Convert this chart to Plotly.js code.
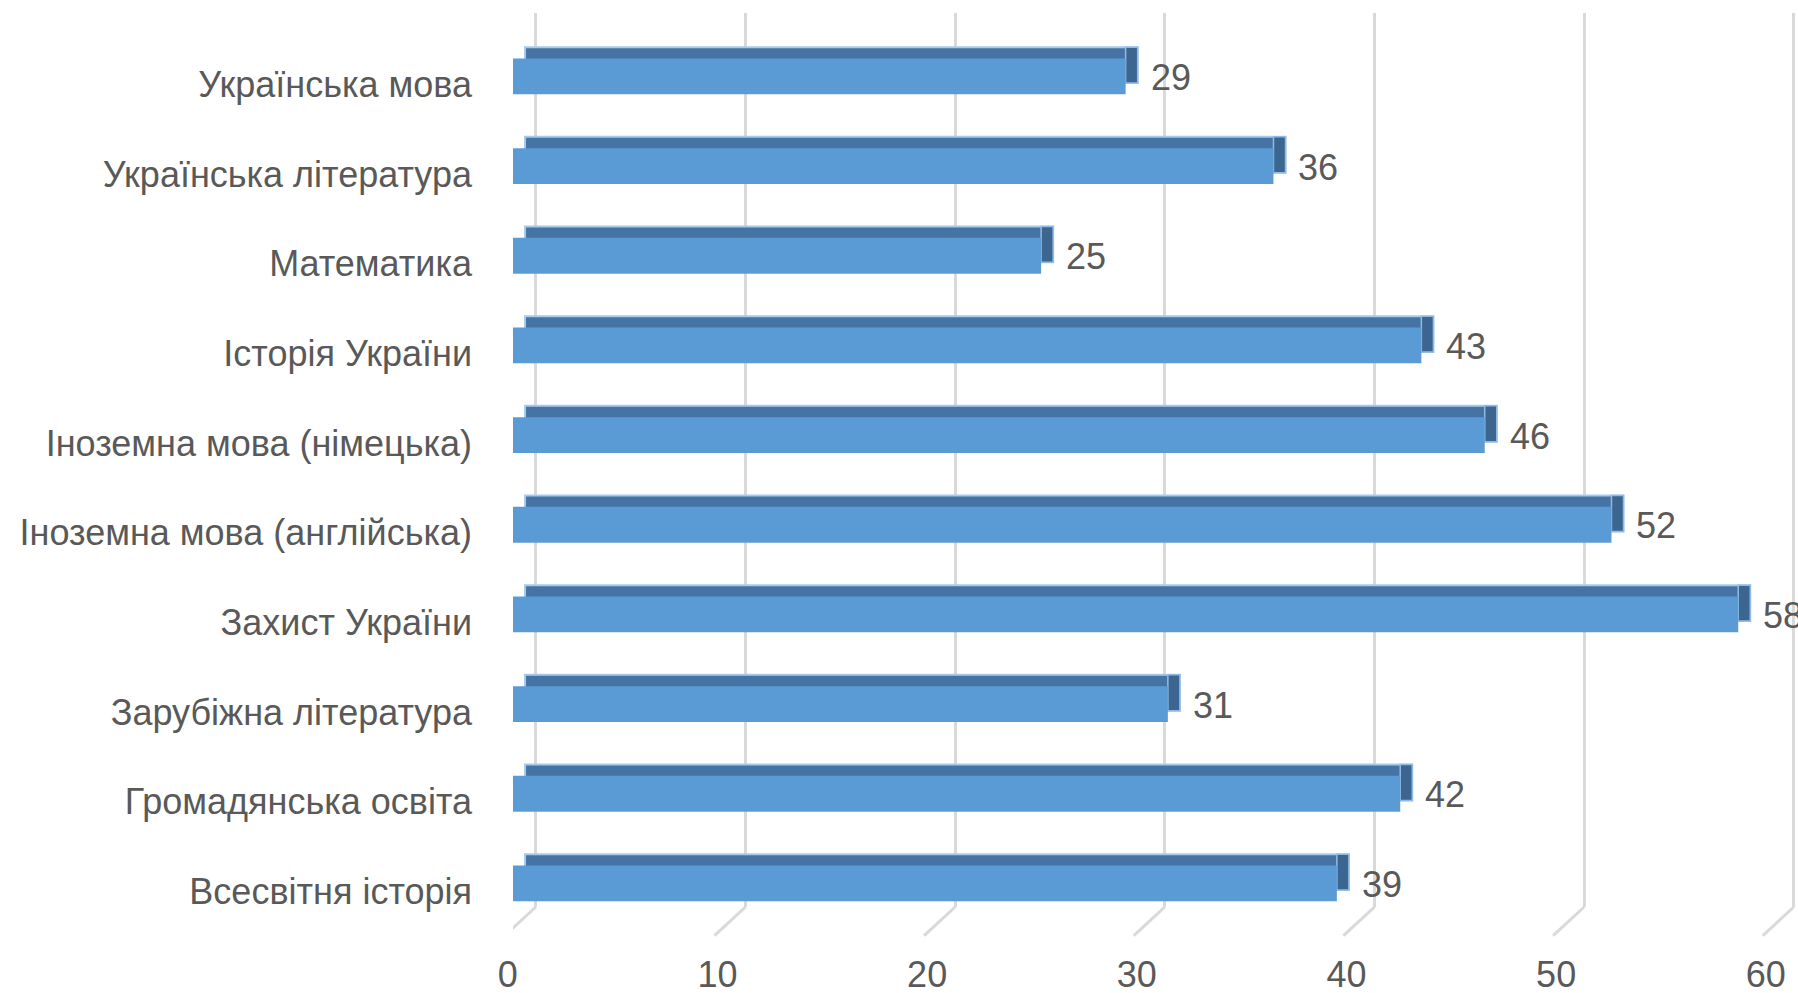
<!DOCTYPE html>
<html>
<head>
<meta charset="utf-8">
<script src="https://cdn.plot.ly/plotly-3.0.1.min.js"></script>
<style>html,body{margin:0;padding:0;background:#fff;overflow:hidden}#chart{width:1798px;height:993px}</style>
</head>
<body>
<div id="chart"></div>
<script>
// ---- data ----
const categories = [
  "Українська мова",
  "Українська література",
  "Математика",
  "Історія України",
  "Іноземна мова (німецька)",
  "Іноземна мова (англійська)",
  "Захист України",
  "Зарубіжна література",
  "Громадянська освіта",
  "Всесвітня історія"
];
const values = [29, 36, 25, 43, 46, 52, 58, 31, 42, 39];
const tickValues = [0, 10, 20, 30, 40, 50, 60];
const tickLabels = ["0", "10", "20", "30", "40", "50", "60"];

// ---- style constants ----
const FONT = "Liberation Sans, Arial, sans-serif";
const TXT = "#595959";
const FRONT = "#5B9BD5";
const TOP = "#4574A4";
const SIDE = "#3C6690";
const barW = 0.40;          // category units
const depthUp = 0.126;      // category units (3D depth, vertical)
const depthRight = 0.57;    // value units (3D depth, horizontal)
const floorDepth = 1.48;    // x2 units for the slanted floor lines
const floorDrop = 0.032;    // paper units

const frontTrace = {
  type: "bar", orientation: "h", x: values, y: categories,
  width: barW, offset: -barW / 2 + 0.01,
  marker: {color: FRONT, line: {width: 0}},
  hoverinfo: "skip", showlegend: false, xaxis: "x", yaxis: "y"
};
const backTrace = {
  type: "bar", orientation: "h", x: values, y: categories,
  base: values.map(() => depthRight),
  width: barW, offset: -barW / 2 + 0.01 - depthUp,
  marker: {color: TOP, line: {color: "#A6CAEC", width: 2}},
  hoverinfo: "skip", showlegend: false, xaxis: "x", yaxis: "y"
};
const sideTrace = {
  type: "bar", orientation: "h", x: values.map(() => depthRight), y: categories,
  base: values,
  width: barW, offset: -barW / 2 + 0.01 - depthUp,
  marker: {color: SIDE, line: {color: "#8FBCE6", width: 1.5}},
  hoverinfo: "skip", showlegend: false, xaxis: "x", yaxis: "y"
};
const gridHolder = {
  type: "scatter", mode: "markers", x: tickValues, y: tickValues.map(() => categories[0]),
  marker: {opacity: 0}, hoverinfo: "skip", showlegend: false, xaxis: "x2", yaxis: "y"
};

const shapes = tickValues.map(v => ({
  type: "line", xref: "x2", yref: "paper",
  x0: v, y0: 0, x1: v - floorDepth, y1: -floorDrop,
  line: {color: "#D9D9D9", width: 3}
}));

const annotations = values.map((v, i) => ({
  x: v, y: categories[i], xref: "x", yref: "y",
  text: String(v), showarrow: false, xanchor: "left", yanchor: "middle",
  xshift: 23, yshift: -2,
  font: {family: FONT, size: 36, color: TXT}
}));

const layout = {
  width: 1798, height: 993,
  margin: {l: 513, r: 0, t: 13, b: 86},
  paper_bgcolor: "#fff", plot_bgcolor: "rgba(0,0,0,0)",
  barmode: "overlay",
  font: {family: FONT, size: 36, color: TXT},
  xaxis: {
    domain: [0, 1], range: [0, 60.83], showgrid: false, zeroline: false,
    showticklabels: false, showline: false, fixedrange: true
  },
  xaxis2: {
    overlaying: "x", anchor: "y", side: "bottom",
    range: [-1.087, 60.2], showgrid: true, gridcolor: "#D9D9D9", gridwidth: 3,
    zeroline: false, showline: false,
    tickmode: "array", tickvals: tickValues, ticktext: tickLabels,
    ticks: "", ticklabelshift: -28, ticklabelstandoff: 43,
    tickfont: {family: FONT, size: 36, color: TXT}
  },
  yaxis: {
    type: "category", categoryorder: "array", categoryarray: categories,
    range: [9.273, -0.697], showgrid: false, zeroline: false, showline: false,
    ticks: "", ticklabelstandoff: 40, ticklabelshift: -9,
    tickfont: {family: FONT, size: 36, color: TXT}
  },
  shapes: shapes,
  annotations: annotations
};

Plotly.newPlot("chart", [gridHolder, backTrace, sideTrace, frontTrace], layout, {displayModeBar: false, staticPlot: true});
</script>
</body>
</html>
